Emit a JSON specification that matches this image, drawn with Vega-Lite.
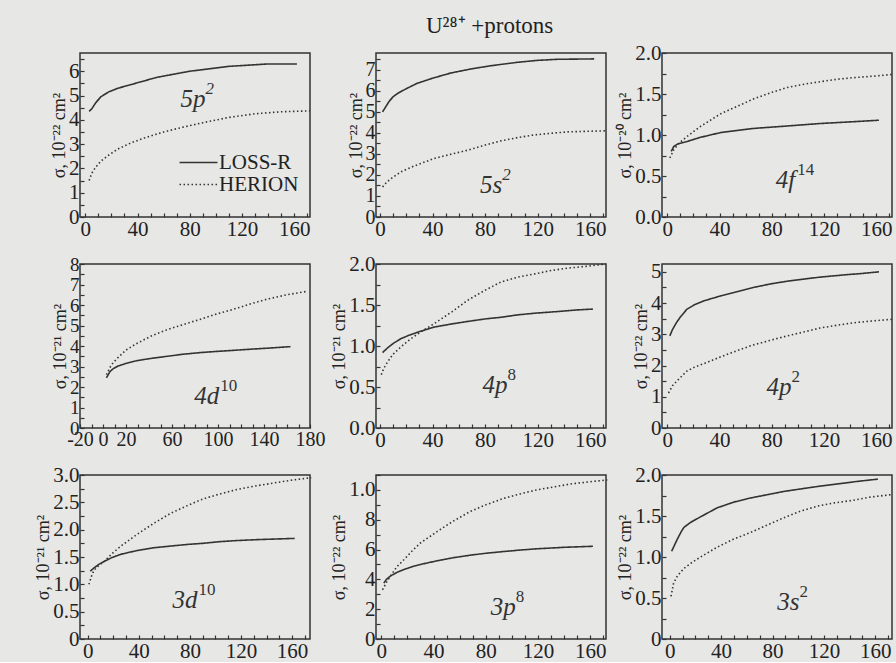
{
"$schema": "https://vega.github.io/schema/vega-lite/v6.json",
"background": "#e7e7e5",
"padding": {"left": 34, "top": 15, "right": 0, "bottom": 0},
"title": {"text": "U²⁸⁺ +protons", "font": "Liberation Serif", "fontSize": 23, "fontWeight": "normal", "color": "#222", "anchor": "middle", "dx": 24, "offset": 3},
"datasets": {"curves": [
{"panel":"5p2","model":"LOSS-R","x":3,"y":4.35},{"panel":"5p2","model":"LOSS-R","x":5,"y":4.45},{"panel":"5p2","model":"LOSS-R","x":8,"y":4.7},{"panel":"5p2","model":"LOSS-R","x":12,"y":4.95},{"panel":"5p2","model":"LOSS-R","x":18,"y":5.15},{"panel":"5p2","model":"LOSS-R","x":25,"y":5.3},{"panel":"5p2","model":"LOSS-R","x":35,"y":5.45},{"panel":"5p2","model":"LOSS-R","x":45,"y":5.6},{"panel":"5p2","model":"LOSS-R","x":55,"y":5.75},{"panel":"5p2","model":"LOSS-R","x":65,"y":5.85},{"panel":"5p2","model":"LOSS-R","x":80,"y":6.0},{"panel":"5p2","model":"LOSS-R","x":95,"y":6.1},{"panel":"5p2","model":"LOSS-R","x":110,"y":6.2},{"panel":"5p2","model":"LOSS-R","x":125,"y":6.25},{"panel":"5p2","model":"LOSS-R","x":140,"y":6.3},{"panel":"5p2","model":"LOSS-R","x":162,"y":6.3},
{"panel":"5p2","model":"HERION","x":3,"y":1.5},{"panel":"5p2","model":"HERION","x":5,"y":1.8},{"panel":"5p2","model":"HERION","x":8,"y":2.05},{"panel":"5p2","model":"HERION","x":12,"y":2.3},{"panel":"5p2","model":"HERION","x":18,"y":2.55},{"panel":"5p2","model":"HERION","x":25,"y":2.8},{"panel":"5p2","model":"HERION","x":35,"y":3.05},{"panel":"5p2","model":"HERION","x":45,"y":3.25},{"panel":"5p2","model":"HERION","x":60,"y":3.5},{"panel":"5p2","model":"HERION","x":75,"y":3.7},{"panel":"5p2","model":"HERION","x":90,"y":3.88},{"panel":"5p2","model":"HERION","x":110,"y":4.1},{"panel":"5p2","model":"HERION","x":130,"y":4.25},{"panel":"5p2","model":"HERION","x":150,"y":4.33},{"panel":"5p2","model":"HERION","x":172,"y":4.37},
{"panel":"5s2","model":"LOSS-R","x":2,"y":5.0},{"panel":"5s2","model":"LOSS-R","x":4,"y":5.2},{"panel":"5s2","model":"LOSS-R","x":7,"y":5.5},{"panel":"5s2","model":"LOSS-R","x":10,"y":5.72},{"panel":"5s2","model":"LOSS-R","x":14,"y":5.9},{"panel":"5s2","model":"LOSS-R","x":20,"y":6.1},{"panel":"5s2","model":"LOSS-R","x":28,"y":6.35},{"panel":"5s2","model":"LOSS-R","x":40,"y":6.6},{"panel":"5s2","model":"LOSS-R","x":54,"y":6.85},{"panel":"5s2","model":"LOSS-R","x":70,"y":7.05},{"panel":"5s2","model":"LOSS-R","x":85,"y":7.2},{"panel":"5s2","model":"LOSS-R","x":105,"y":7.36},{"panel":"5s2","model":"LOSS-R","x":120,"y":7.45},{"panel":"5s2","model":"LOSS-R","x":135,"y":7.5},{"panel":"5s2","model":"LOSS-R","x":163,"y":7.52},
{"panel":"5s2","model":"HERION","x":2,"y":1.43},{"panel":"5s2","model":"HERION","x":5,"y":1.65},{"panel":"5s2","model":"HERION","x":9,"y":1.85},{"panel":"5s2","model":"HERION","x":16,"y":2.15},{"panel":"5s2","model":"HERION","x":25,"y":2.4},{"panel":"5s2","model":"HERION","x":41,"y":2.78},{"panel":"5s2","model":"HERION","x":55,"y":3.0},{"panel":"5s2","model":"HERION","x":67,"y":3.18},{"panel":"5s2","model":"HERION","x":80,"y":3.42},{"panel":"5s2","model":"HERION","x":92,"y":3.62},{"panel":"5s2","model":"HERION","x":105,"y":3.78},{"panel":"5s2","model":"HERION","x":117,"y":3.9},{"panel":"5s2","model":"HERION","x":130,"y":3.98},{"panel":"5s2","model":"HERION","x":143,"y":4.05},{"panel":"5s2","model":"HERION","x":160,"y":4.08},{"panel":"5s2","model":"HERION","x":172,"y":4.1},
{"panel":"4f14","model":"LOSS-R","x":3,"y":0.8},{"panel":"4f14","model":"LOSS-R","x":5,"y":0.86},{"panel":"4f14","model":"LOSS-R","x":8,"y":0.89},{"panel":"4f14","model":"LOSS-R","x":15,"y":0.92},{"panel":"4f14","model":"LOSS-R","x":25,"y":0.97},{"panel":"4f14","model":"LOSS-R","x":41,"y":1.03},{"panel":"4f14","model":"LOSS-R","x":66,"y":1.08},{"panel":"4f14","model":"LOSS-R","x":92,"y":1.11},{"panel":"4f14","model":"LOSS-R","x":117,"y":1.14},{"panel":"4f14","model":"LOSS-R","x":140,"y":1.16},{"panel":"4f14","model":"LOSS-R","x":162,"y":1.18},
{"panel":"4f14","model":"HERION","x":2,"y":0.72},{"panel":"4f14","model":"HERION","x":5,"y":0.82},{"panel":"4f14","model":"HERION","x":9,"y":0.9},{"panel":"4f14","model":"HERION","x":15,"y":0.98},{"panel":"4f14","model":"HERION","x":25,"y":1.1},{"panel":"4f14","model":"HERION","x":41,"y":1.26},{"panel":"4f14","model":"HERION","x":55,"y":1.36},{"panel":"4f14","model":"HERION","x":66,"y":1.44},{"panel":"4f14","model":"HERION","x":80,"y":1.52},{"panel":"4f14","model":"HERION","x":92,"y":1.58},{"panel":"4f14","model":"HERION","x":105,"y":1.62},{"panel":"4f14","model":"HERION","x":117,"y":1.65},{"panel":"4f14","model":"HERION","x":130,"y":1.68},{"panel":"4f14","model":"HERION","x":143,"y":1.7},{"panel":"4f14","model":"HERION","x":160,"y":1.72},{"panel":"4f14","model":"HERION","x":173,"y":1.74},
{"panel":"4d10","model":"LOSS-R","x":3,"y":2.45},{"panel":"4d10","model":"LOSS-R","x":6,"y":2.75},{"panel":"4d10","model":"LOSS-R","x":9,"y":2.9},{"panel":"4d10","model":"LOSS-R","x":13,"y":3.02},{"panel":"4d10","model":"LOSS-R","x":20,"y":3.15},{"panel":"4d10","model":"LOSS-R","x":28,"y":3.27},{"panel":"4d10","model":"LOSS-R","x":40,"y":3.38},{"panel":"4d10","model":"LOSS-R","x":56,"y":3.5},{"panel":"4d10","model":"LOSS-R","x":70,"y":3.6},{"panel":"4d10","model":"LOSS-R","x":85,"y":3.68},{"panel":"4d10","model":"LOSS-R","x":100,"y":3.74},{"panel":"4d10","model":"LOSS-R","x":114,"y":3.79},{"panel":"4d10","model":"LOSS-R","x":130,"y":3.85},{"panel":"4d10","model":"LOSS-R","x":145,"y":3.9},{"panel":"4d10","model":"LOSS-R","x":163,"y":3.97},
{"panel":"4d10","model":"HERION","x":3,"y":2.6},{"panel":"4d10","model":"HERION","x":6,"y":2.95},{"panel":"4d10","model":"HERION","x":9,"y":3.2},{"panel":"4d10","model":"HERION","x":13,"y":3.43},{"panel":"4d10","model":"HERION","x":20,"y":3.8},{"panel":"4d10","model":"HERION","x":28,"y":4.08},{"panel":"4d10","model":"HERION","x":42,"y":4.49},{"panel":"4d10","model":"HERION","x":56,"y":4.8},{"panel":"4d10","model":"HERION","x":70,"y":5.05},{"panel":"4d10","model":"HERION","x":85,"y":5.31},{"panel":"4d10","model":"HERION","x":100,"y":5.58},{"panel":"4d10","model":"HERION","x":114,"y":5.8},{"panel":"4d10","model":"HERION","x":128,"y":6.05},{"panel":"4d10","model":"HERION","x":143,"y":6.29},{"panel":"4d10","model":"HERION","x":160,"y":6.5},{"panel":"4d10","model":"HERION","x":178,"y":6.67},
{"panel":"4p8","model":"LOSS-R","x":2,"y":0.92},{"panel":"4p8","model":"LOSS-R","x":6,"y":0.98},{"panel":"4p8","model":"LOSS-R","x":10,"y":1.03},{"panel":"4p8","model":"LOSS-R","x":16,"y":1.09},{"panel":"4p8","model":"LOSS-R","x":22,"y":1.13},{"panel":"4p8","model":"LOSS-R","x":29,"y":1.17},{"panel":"4p8","model":"LOSS-R","x":41,"y":1.23},{"panel":"4p8","model":"LOSS-R","x":55,"y":1.27},{"panel":"4p8","model":"LOSS-R","x":67,"y":1.3},{"panel":"4p8","model":"LOSS-R","x":80,"y":1.33},{"panel":"4p8","model":"LOSS-R","x":92,"y":1.35},{"panel":"4p8","model":"LOSS-R","x":105,"y":1.38},{"panel":"4p8","model":"LOSS-R","x":118,"y":1.4},{"panel":"4p8","model":"LOSS-R","x":135,"y":1.42},{"panel":"4p8","model":"LOSS-R","x":150,"y":1.44},{"panel":"4p8","model":"LOSS-R","x":162,"y":1.45},
{"panel":"4p8","model":"HERION","x":1,"y":0.65},{"panel":"4p8","model":"HERION","x":3,"y":0.73},{"panel":"4p8","model":"HERION","x":6,"y":0.81},{"panel":"4p8","model":"HERION","x":10,"y":0.9},{"panel":"4p8","model":"HERION","x":16,"y":0.99},{"panel":"4p8","model":"HERION","x":22,"y":1.07},{"panel":"4p8","model":"HERION","x":29,"y":1.15},{"panel":"4p8","model":"HERION","x":41,"y":1.27},{"panel":"4p8","model":"HERION","x":55,"y":1.42},{"panel":"4p8","model":"HERION","x":67,"y":1.56},{"panel":"4p8","model":"HERION","x":80,"y":1.68},{"panel":"4p8","model":"HERION","x":92,"y":1.78},{"panel":"4p8","model":"HERION","x":105,"y":1.84},{"panel":"4p8","model":"HERION","x":118,"y":1.88},{"panel":"4p8","model":"HERION","x":130,"y":1.92},{"panel":"4p8","model":"HERION","x":143,"y":1.95},{"panel":"4p8","model":"HERION","x":156,"y":1.97},{"panel":"4p8","model":"HERION","x":172,"y":2.0},
{"panel":"4p2","model":"LOSS-R","x":2,"y":2.95},{"panel":"4p2","model":"LOSS-R","x":4,"y":3.15},{"panel":"4p2","model":"LOSS-R","x":7,"y":3.37},{"panel":"4p2","model":"LOSS-R","x":10,"y":3.55},{"panel":"4p2","model":"LOSS-R","x":15,"y":3.8},{"panel":"4p2","model":"LOSS-R","x":21,"y":3.95},{"panel":"4p2","model":"LOSS-R","x":28,"y":4.07},{"panel":"4p2","model":"LOSS-R","x":41,"y":4.23},{"panel":"4p2","model":"LOSS-R","x":55,"y":4.38},{"panel":"4p2","model":"LOSS-R","x":66,"y":4.5},{"panel":"4p2","model":"LOSS-R","x":80,"y":4.62},{"panel":"4p2","model":"LOSS-R","x":92,"y":4.7},{"panel":"4p2","model":"LOSS-R","x":105,"y":4.77},{"panel":"4p2","model":"LOSS-R","x":117,"y":4.83},{"panel":"4p2","model":"LOSS-R","x":135,"y":4.9},{"panel":"4p2","model":"LOSS-R","x":150,"y":4.95},{"panel":"4p2","model":"LOSS-R","x":162,"y":5.0},
{"panel":"4p2","model":"HERION","x":1,"y":1.12},{"panel":"4p2","model":"HERION","x":4,"y":1.35},{"panel":"4p2","model":"HERION","x":8,"y":1.53},{"panel":"4p2","model":"HERION","x":15,"y":1.82},{"panel":"4p2","model":"HERION","x":21,"y":1.95},{"panel":"4p2","model":"HERION","x":28,"y":2.06},{"panel":"4p2","model":"HERION","x":41,"y":2.28},{"panel":"4p2","model":"HERION","x":55,"y":2.5},{"panel":"4p2","model":"HERION","x":66,"y":2.66},{"panel":"4p2","model":"HERION","x":80,"y":2.82},{"panel":"4p2","model":"HERION","x":92,"y":2.95},{"panel":"4p2","model":"HERION","x":105,"y":3.08},{"panel":"4p2","model":"HERION","x":117,"y":3.2},{"panel":"4p2","model":"HERION","x":130,"y":3.29},{"panel":"4p2","model":"HERION","x":143,"y":3.37},{"panel":"4p2","model":"HERION","x":158,"y":3.43},{"panel":"4p2","model":"HERION","x":172,"y":3.48},
{"panel":"3d10","model":"LOSS-R","x":2,"y":1.24},{"panel":"3d10","model":"LOSS-R","x":5,"y":1.3},{"panel":"3d10","model":"LOSS-R","x":9,"y":1.37},{"panel":"3d10","model":"LOSS-R","x":13,"y":1.42},{"panel":"3d10","model":"LOSS-R","x":19,"y":1.49},{"panel":"3d10","model":"LOSS-R","x":26,"y":1.55},{"panel":"3d10","model":"LOSS-R","x":39,"y":1.62},{"panel":"3d10","model":"LOSS-R","x":52,"y":1.67},{"panel":"3d10","model":"LOSS-R","x":65,"y":1.7},{"panel":"3d10","model":"LOSS-R","x":78,"y":1.73},{"panel":"3d10","model":"LOSS-R","x":90,"y":1.75},{"panel":"3d10","model":"LOSS-R","x":103,"y":1.78},{"panel":"3d10","model":"LOSS-R","x":116,"y":1.8},{"panel":"3d10","model":"LOSS-R","x":135,"y":1.82},{"panel":"3d10","model":"LOSS-R","x":162,"y":1.84},
{"panel":"3d10","model":"HERION","x":1,"y":1.0},{"panel":"3d10","model":"HERION","x":3,"y":1.15},{"panel":"3d10","model":"HERION","x":5,"y":1.26},{"panel":"3d10","model":"HERION","x":9,"y":1.35},{"panel":"3d10","model":"HERION","x":13,"y":1.42},{"panel":"3d10","model":"HERION","x":19,"y":1.56},{"panel":"3d10","model":"HERION","x":26,"y":1.7},{"panel":"3d10","model":"HERION","x":39,"y":1.92},{"panel":"3d10","model":"HERION","x":52,"y":2.12},{"panel":"3d10","model":"HERION","x":65,"y":2.3},{"panel":"3d10","model":"HERION","x":78,"y":2.44},{"panel":"3d10","model":"HERION","x":90,"y":2.56},{"panel":"3d10","model":"HERION","x":103,"y":2.65},{"panel":"3d10","model":"HERION","x":116,"y":2.73},{"panel":"3d10","model":"HERION","x":129,"y":2.79},{"panel":"3d10","model":"HERION","x":142,"y":2.84},{"panel":"3d10","model":"HERION","x":158,"y":2.9},{"panel":"3d10","model":"HERION","x":175,"y":2.95},
{"panel":"3p8","model":"LOSS-R","x":2,"y":3.75},{"panel":"3p8","model":"LOSS-R","x":4,"y":4.0},{"panel":"3p8","model":"LOSS-R","x":7,"y":4.22},{"panel":"3p8","model":"LOSS-R","x":12,"y":4.47},{"panel":"3p8","model":"LOSS-R","x":17,"y":4.65},{"panel":"3p8","model":"LOSS-R","x":23,"y":4.83},{"panel":"3p8","model":"LOSS-R","x":30,"y":5.0},{"panel":"3p8","model":"LOSS-R","x":43,"y":5.25},{"panel":"3p8","model":"LOSS-R","x":55,"y":5.45},{"panel":"3p8","model":"LOSS-R","x":68,"y":5.62},{"panel":"3p8","model":"LOSS-R","x":80,"y":5.75},{"panel":"3p8","model":"LOSS-R","x":94,"y":5.87},{"panel":"3p8","model":"LOSS-R","x":107,"y":5.97},{"panel":"3p8","model":"LOSS-R","x":119,"y":6.05},{"panel":"3p8","model":"LOSS-R","x":140,"y":6.15},{"panel":"3p8","model":"LOSS-R","x":162,"y":6.22},
{"panel":"3p8","model":"HERION","x":1,"y":3.3},{"panel":"3p8","model":"HERION","x":4,"y":3.8},{"panel":"3p8","model":"HERION","x":7,"y":4.22},{"panel":"3p8","model":"HERION","x":12,"y":4.85},{"panel":"3p8","model":"HERION","x":17.5,"y":5.33},{"panel":"3p8","model":"HERION","x":23,"y":5.85},{"panel":"3p8","model":"HERION","x":30,"y":6.44},{"panel":"3p8","model":"HERION","x":43,"y":7.22},{"panel":"3p8","model":"HERION","x":55,"y":7.9},{"panel":"3p8","model":"HERION","x":68,"y":8.55},{"panel":"3p8","model":"HERION","x":80,"y":9.0},{"panel":"3p8","model":"HERION","x":94,"y":9.44},{"panel":"3p8","model":"HERION","x":107,"y":9.75},{"panel":"3p8","model":"HERION","x":119,"y":10.0},{"panel":"3p8","model":"HERION","x":132,"y":10.2},{"panel":"3p8","model":"HERION","x":145,"y":10.4},{"panel":"3p8","model":"HERION","x":160,"y":10.55},{"panel":"3p8","model":"HERION","x":173,"y":10.67},
{"panel":"3s2","model":"LOSS-R","x":1.5,"y":1.07},{"panel":"3s2","model":"LOSS-R","x":3,"y":1.12},{"panel":"3s2","model":"LOSS-R","x":6,"y":1.22},{"panel":"3s2","model":"LOSS-R","x":9,"y":1.31},{"panel":"3s2","model":"LOSS-R","x":11,"y":1.36},{"panel":"3s2","model":"LOSS-R","x":16,"y":1.42},{"panel":"3s2","model":"LOSS-R","x":24,"y":1.49},{"panel":"3s2","model":"LOSS-R","x":37,"y":1.6},{"panel":"3s2","model":"LOSS-R","x":50,"y":1.67},{"panel":"3s2","model":"LOSS-R","x":63,"y":1.72},{"panel":"3s2","model":"LOSS-R","x":76,"y":1.76},{"panel":"3s2","model":"LOSS-R","x":89,"y":1.8},{"panel":"3s2","model":"LOSS-R","x":102,"y":1.83},{"panel":"3s2","model":"LOSS-R","x":115,"y":1.86},{"panel":"3s2","model":"LOSS-R","x":130,"y":1.89},{"panel":"3s2","model":"LOSS-R","x":145,"y":1.92},{"panel":"3s2","model":"LOSS-R","x":162,"y":1.95},
{"panel":"3s2","model":"HERION","x":1,"y":0.52},{"panel":"3s2","model":"HERION","x":3,"y":0.68},{"panel":"3s2","model":"HERION","x":6,"y":0.77},{"panel":"3s2","model":"HERION","x":11,"y":0.86},{"panel":"3s2","model":"HERION","x":17,"y":0.93},{"panel":"3s2","model":"HERION","x":24,"y":1.0},{"panel":"3s2","model":"HERION","x":37,"y":1.12},{"panel":"3s2","model":"HERION","x":50,"y":1.22},{"panel":"3s2","model":"HERION","x":63,"y":1.3},{"panel":"3s2","model":"HERION","x":76,"y":1.39},{"panel":"3s2","model":"HERION","x":89,"y":1.48},{"panel":"3s2","model":"HERION","x":102,"y":1.56},{"panel":"3s2","model":"HERION","x":115,"y":1.62},{"panel":"3s2","model":"HERION","x":128,"y":1.66},{"panel":"3s2","model":"HERION","x":142,"y":1.69},{"panel":"3s2","model":"HERION","x":156,"y":1.73},{"panel":"3s2","model":"HERION","x":172,"y":1.76}
]},
"columns": 3,
"spacing": {"row": 12, "column": 4},
"resolve": {"scale": {"x": "independent", "y": "independent"}, "legend": {"strokeDash": "independent"}},
"concat": [
{"width": 230, "height": 164, "data": {"name": "curves"}, "transform": [{"filter": "datum.panel == '5p2'"}],
 "layer": [
  {"mark": {"type": "line", "color": "#333", "strokeWidth": 1.6},
   "encoding": {
    "x": {"field": "x", "type": "quantitative", "scale": {"domain": [-4, 172], "nice": false, "zero": false}, "axis": {"values": [0,10,20,30,40,50,60,70,80,90,100,110,120,130,140,150,160,170], "tickCount": 500, "labelExpr": "datum.value % 40 == 0 ? format(datum.value, 'd') : ''", "labelOverlap": false, "title": null}},
    "y": {"field": "y", "type": "quantitative", "scale": {"domain": [0, 6.75], "nice": false}, "axis": {"values": [0,0.5,1,1.5,2,2.5,3,3.5,4,4.5,5,5.5,6,6.5], "tickCount": 500, "labelExpr": "datum.value % 1 == 0 ? format(datum.value, 'd') : ''", "labelOverlap": false, "title": "σ, 10⁻²² cm²"}},
    "strokeDash": {"field": "model", "type": "nominal", "scale": {"domain": ["LOSS-R", "HERION"], "range": [[1, 0], [1.5, 2.5]]}, "legend": {"title": null, "orient": "none", "legendX": 108, "legendY": 99, "symbolType": "M-4,0H4", "symbolSize": 90, "symbolStrokeWidth": 1.6, "symbolStrokeColor": "#333", "labelFont": "Liberation Serif", "labelFontSize": 21, "labelColor": "#222", "labelOffset": 10, "rowPadding": 0, "padding": 0}}
   }},
  {"data": {"values": [{}]}, "mark": {"type": "text", "font": "Liberation Serif", "fontStyle": "italic", "fontSize": 25, "color": "#333", "align": "right"},
   "encoding": {"x": {"datum": 92}, "y": {"datum": 4.85}, "text": {"value": "5p"}}},
  {"data": {"values": [{}]}, "mark": {"type": "text", "font": "Liberation Serif", "fontStyle": "italic", "fontSize": 17, "color": "#333", "align": "left", "dy": -10},
   "encoding": {"x": {"datum": 92}, "y": {"datum": 4.85}, "text": {"value": "2"}}}
 ]},
{"width": 230, "height": 164, "data": {"name": "curves"}, "transform": [{"filter": "datum.panel == '5s2'"}],
 "layer": [
  {"mark": {"type": "line", "color": "#333", "strokeWidth": 1.6},
   "encoding": {
    "x": {"field": "x", "type": "quantitative", "scale": {"domain": [-3, 172], "nice": false, "zero": false}, "axis": {"values": [0,10,20,30,40,50,60,70,80,90,100,110,120,130,140,150,160,170], "tickCount": 500, "labelExpr": "datum.value % 40 == 0 ? format(datum.value, 'd') : ''", "labelOverlap": false, "title": null}},
    "y": {"field": "y", "type": "quantitative", "scale": {"domain": [0, 7.8], "nice": false}, "axis": {"values": [0,0.5,1,1.5,2,2.5,3,3.5,4,4.5,5,5.5,6,6.5,7,7.5], "tickCount": 500, "labelExpr": "datum.value % 1 == 0 ? format(datum.value, 'd') : ''", "labelOverlap": false, "labelFontSize": 20, "title": "σ, 10⁻²² cm²"}},
    "strokeDash": {"field": "model", "type": "nominal", "scale": {"domain": ["LOSS-R", "HERION"], "range": [[1, 0], [1.5, 2.5]]}, "legend": null}
   }},
  {"data": {"values": [{}]}, "mark": {"type": "text", "font": "Liberation Serif", "fontStyle": "italic", "fontSize": 25, "color": "#333", "align": "right"},
   "encoding": {"x": {"datum": 93}, "y": {"datum": 1.5}, "text": {"value": "5s"}}},
  {"data": {"values": [{}]}, "mark": {"type": "text", "font": "Liberation Serif", "fontStyle": "italic", "fontSize": 17, "color": "#333", "align": "left", "dy": -10},
   "encoding": {"x": {"datum": 93}, "y": {"datum": 1.5}, "text": {"value": "2"}}}
 ]},
{"width": 230, "height": 164, "data": {"name": "curves"}, "transform": [{"filter": "datum.panel == '4f14'"}],
 "layer": [
  {"mark": {"type": "line", "color": "#333", "strokeWidth": 1.6},
   "encoding": {
    "x": {"field": "x", "type": "quantitative", "scale": {"domain": [-4, 172], "nice": false, "zero": false}, "axis": {"values": [0,10,20,30,40,50,60,70,80,90,100,110,120,130,140,150,160,170], "tickCount": 500, "labelExpr": "datum.value % 40 == 0 ? format(datum.value, 'd') : ''", "labelOverlap": false, "title": null}},
    "y": {"field": "y", "type": "quantitative", "scale": {"domain": [0, 2], "nice": false}, "axis": {"values": [0,0.25,0.5,0.75,1,1.25,1.5,1.75,2], "tickCount": 500, "labelExpr": "(datum.value*2) % 1 == 0 ? format(datum.value, '.1f') : ''", "labelOverlap": false, "title": "σ, 10⁻²⁰ cm²"}},
    "strokeDash": {"field": "model", "type": "nominal", "scale": {"domain": ["LOSS-R", "HERION"], "range": [[1, 0], [1.5, 2.5]]}, "legend": null}
   }},
  {"data": {"values": [{}]}, "mark": {"type": "text", "font": "Liberation Serif", "fontStyle": "italic", "fontSize": 25, "color": "#333", "align": "right"},
   "encoding": {"x": {"datum": 98}, "y": {"datum": 0.45}, "text": {"value": "4f"}}},
  {"data": {"values": [{}]}, "mark": {"type": "text", "font": "Liberation Serif", "fontSize": 17, "color": "#333", "align": "left", "dy": -10, "dx": 2},
   "encoding": {"x": {"datum": 98}, "y": {"datum": 0.45}, "text": {"value": "14"}}}
 ]},
{"width": 230, "height": 164, "data": {"name": "curves"}, "transform": [{"filter": "datum.panel == '4d10'"}],
 "layer": [
  {"mark": {"type": "line", "color": "#333", "strokeWidth": 1.6},
   "encoding": {
    "x": {"field": "x", "type": "quantitative", "scale": {"domain": [-20, 180], "nice": false, "zero": false}, "axis": {"values": [-20,-10,0,10,20,30,40,50,60,70,80,90,100,110,120,130,140,150,160,170,180], "tickCount": 500, "labelExpr": "indexof([-20, 0, 20, 60, 100, 140, 180], datum.value) >= 0 ? (datum.value < 0 ? '-' : '') + format(abs(datum.value), 'd') : ''", "labelOverlap": false, "labelFontSize": 20, "title": null}},
    "y": {"field": "y", "type": "quantitative", "scale": {"domain": [0, 8], "nice": false}, "axis": {"values": [0,0.5,1,1.5,2,2.5,3,3.5,4,4.5,5,5.5,6,6.5,7,7.5,8], "tickCount": 500, "labelExpr": "datum.value % 1 == 0 ? format(datum.value, 'd') : ''", "labelOverlap": false, "labelFontSize": 19, "title": "σ, 10⁻²¹ cm²"}},
    "strokeDash": {"field": "model", "type": "nominal", "scale": {"domain": ["LOSS-R", "HERION"], "range": [[1, 0], [1.5, 2.5]]}, "legend": null}
   }},
  {"data": {"values": [{}]}, "mark": {"type": "text", "font": "Liberation Serif", "fontStyle": "italic", "fontSize": 25, "color": "#333", "align": "right"},
   "encoding": {"x": {"datum": 101}, "y": {"datum": 1.55}, "text": {"value": "4d"}}},
  {"data": {"values": [{}]}, "mark": {"type": "text", "font": "Liberation Serif", "fontSize": 17, "color": "#333", "align": "left", "dy": -10, "dx": 1},
   "encoding": {"x": {"datum": 101}, "y": {"datum": 1.55}, "text": {"value": "10"}}}
 ]},
{"width": 230, "height": 164, "data": {"name": "curves"}, "transform": [{"filter": "datum.panel == '4p8'"}],
 "layer": [
  {"mark": {"type": "line", "color": "#333", "strokeWidth": 1.6},
   "encoding": {
    "x": {"field": "x", "type": "quantitative", "scale": {"domain": [-3, 172], "nice": false, "zero": false}, "axis": {"values": [0,10,20,30,40,50,60,70,80,90,100,110,120,130,140,150,160,170], "tickCount": 500, "labelExpr": "datum.value % 40 == 0 ? format(datum.value, 'd') : ''", "labelOverlap": false, "title": null}},
    "y": {"field": "y", "type": "quantitative", "scale": {"domain": [0, 2], "nice": false}, "axis": {"values": [0,0.25,0.5,0.75,1,1.25,1.5,1.75,2], "tickCount": 500, "labelExpr": "(datum.value*2) % 1 == 0 ? format(datum.value, '.1f') : ''", "labelOverlap": false, "title": "σ, 10⁻²¹ cm²"}},
    "strokeDash": {"field": "model", "type": "nominal", "scale": {"domain": ["LOSS-R", "HERION"], "range": [[1, 0], [1.5, 2.5]]}, "legend": null}
   }},
  {"data": {"values": [{}]}, "mark": {"type": "text", "font": "Liberation Serif", "fontStyle": "italic", "fontSize": 25, "color": "#333", "align": "right"},
   "encoding": {"x": {"datum": 97}, "y": {"datum": 0.53}, "text": {"value": "4p"}}},
  {"data": {"values": [{}]}, "mark": {"type": "text", "font": "Liberation Serif", "fontSize": 17, "color": "#333", "align": "left", "dy": -10},
   "encoding": {"x": {"datum": 97}, "y": {"datum": 0.53}, "text": {"value": "8"}}}
 ]},
{"width": 230, "height": 164, "data": {"name": "curves"}, "transform": [{"filter": "datum.panel == '4p2'"}],
 "layer": [
  {"mark": {"type": "line", "color": "#333", "strokeWidth": 1.6},
   "encoding": {
    "x": {"field": "x", "type": "quantitative", "scale": {"domain": [-4, 172], "nice": false, "zero": false}, "axis": {"values": [0,10,20,30,40,50,60,70,80,90,100,110,120,130,140,150,160,170], "tickCount": 500, "labelExpr": "datum.value % 40 == 0 ? format(datum.value, 'd') : ''", "labelOverlap": false, "title": null}},
    "y": {"field": "y", "type": "quantitative", "scale": {"domain": [0, 5.25], "nice": false}, "axis": {"values": [0,0.5,1,1.5,2,2.5,3,3.5,4,4.5,5], "tickCount": 500, "labelExpr": "datum.value % 1 == 0 ? format(datum.value, 'd') : ''", "labelOverlap": false, "title": "σ, 10⁻²² cm²"}},
    "strokeDash": {"field": "model", "type": "nominal", "scale": {"domain": ["LOSS-R", "HERION"], "range": [[1, 0], [1.5, 2.5]]}, "legend": null}
   }},
  {"data": {"values": [{}]}, "mark": {"type": "text", "font": "Liberation Serif", "fontStyle": "italic", "fontSize": 25, "color": "#333", "align": "right"},
   "encoding": {"x": {"datum": 95}, "y": {"datum": 1.3}, "text": {"value": "4p"}}},
  {"data": {"values": [{}]}, "mark": {"type": "text", "font": "Liberation Serif", "fontSize": 17, "color": "#333", "align": "left", "dy": -10},
   "encoding": {"x": {"datum": 95}, "y": {"datum": 1.3}, "text": {"value": "2"}}}
 ]},
{"width": 230, "height": 164, "data": {"name": "curves"}, "transform": [{"filter": "datum.panel == '3d10'"}],
 "layer": [
  {"mark": {"type": "line", "color": "#333", "strokeWidth": 1.6},
   "encoding": {
    "x": {"field": "x", "type": "quantitative", "scale": {"domain": [-6, 174], "nice": false, "zero": false}, "axis": {"values": [0,10,20,30,40,50,60,70,80,90,100,110,120,130,140,150,160,170], "tickCount": 500, "labelExpr": "datum.value % 40 == 0 ? format(datum.value, 'd') : ''", "labelOverlap": false, "title": null}},
    "y": {"field": "y", "type": "quantitative", "scale": {"domain": [0, 3], "nice": false}, "axis": {"values": [0,0.25,0.5,0.75,1,1.25,1.5,1.75,2,2.25,2.5,2.75,3], "tickCount": 500, "labelExpr": "(datum.value*2) % 1 == 0 ? (datum.value == 0 ? '0' : format(datum.value, '.1f')) : ''", "labelOverlap": false, "title": "σ, 10⁻²¹ cm²"}},
    "strokeDash": {"field": "model", "type": "nominal", "scale": {"domain": ["LOSS-R", "HERION"], "range": [[1, 0], [1.5, 2.5]]}, "legend": null}
   }},
  {"data": {"values": [{}]}, "mark": {"type": "text", "font": "Liberation Serif", "fontStyle": "italic", "fontSize": 25, "color": "#333", "align": "right"},
   "encoding": {"x": {"datum": 86}, "y": {"datum": 0.72}, "text": {"value": "3d"}}},
  {"data": {"values": [{}]}, "mark": {"type": "text", "font": "Liberation Serif", "fontSize": 17, "color": "#333", "align": "left", "dy": -10, "dx": 1},
   "encoding": {"x": {"datum": 86}, "y": {"datum": 0.72}, "text": {"value": "10"}}}
 ]},
{"width": 230, "height": 164, "data": {"name": "curves"}, "transform": [{"filter": "datum.panel == '3p8'"}],
 "layer": [
  {"mark": {"type": "line", "color": "#333", "strokeWidth": 1.6},
   "encoding": {
    "x": {"field": "x", "type": "quantitative", "scale": {"domain": [-4, 172], "nice": false, "zero": false}, "axis": {"values": [0,10,20,30,40,50,60,70,80,90,100,110,120,130,140,150,160,170], "tickCount": 500, "labelExpr": "datum.value % 40 == 0 ? format(datum.value, 'd') : ''", "labelOverlap": false, "title": null}},
    "y": {"field": "y", "type": "quantitative", "scale": {"domain": [0, 11], "nice": false}, "axis": {"values": [0,1,2,3,4,5,6,7,8,9,10,11], "tickCount": 500, "labelExpr": "datum.value % 2 == 0 ? (datum.value == 10 ? '1.0' : format(datum.value, 'd')) : ''", "labelOverlap": false, "title": "σ, 10⁻²² cm²"}},
    "strokeDash": {"field": "model", "type": "nominal", "scale": {"domain": ["LOSS-R", "HERION"], "range": [[1, 0], [1.5, 2.5]]}, "legend": null}
   }},
  {"data": {"values": [{}]}, "mark": {"type": "text", "font": "Liberation Serif", "fontStyle": "italic", "fontSize": 25, "color": "#333", "align": "right"},
   "encoding": {"x": {"datum": 103}, "y": {"datum": 2.15}, "text": {"value": "3p"}}},
  {"data": {"values": [{}]}, "mark": {"type": "text", "font": "Liberation Serif", "fontSize": 17, "color": "#333", "align": "left", "dy": -10},
   "encoding": {"x": {"datum": 103}, "y": {"datum": 2.15}, "text": {"value": "8"}}}
 ]},
{"width": 230, "height": 164, "data": {"name": "curves"}, "transform": [{"filter": "datum.panel == '3s2'"}],
 "layer": [
  {"mark": {"type": "line", "color": "#333", "strokeWidth": 1.6},
   "encoding": {
    "x": {"field": "x", "type": "quantitative", "scale": {"domain": [-6, 173], "nice": false, "zero": false}, "axis": {"values": [0,10,20,30,40,50,60,70,80,90,100,110,120,130,140,150,160,170], "tickCount": 500, "labelExpr": "datum.value % 40 == 0 ? format(datum.value, 'd') : ''", "labelOverlap": false, "title": null}},
    "y": {"field": "y", "type": "quantitative", "scale": {"domain": [0, 2], "nice": false}, "axis": {"values": [0,0.25,0.5,0.75,1,1.25,1.5,1.75,2], "tickCount": 500, "labelExpr": "(datum.value*2) % 1 == 0 ? (datum.value == 0 ? '0' : format(datum.value, '.1f')) : ''", "labelOverlap": false, "title": "σ, 10⁻²² cm²"}},
    "strokeDash": {"field": "model", "type": "nominal", "scale": {"domain": ["LOSS-R", "HERION"], "range": [[1, 0], [1.5, 2.5]]}, "legend": null}
   }},
  {"data": {"values": [{}]}, "mark": {"type": "text", "font": "Liberation Serif", "fontStyle": "italic", "fontSize": 25, "color": "#333", "align": "right"},
   "encoding": {"x": {"datum": 101}, "y": {"datum": 0.45}, "text": {"value": "3s"}}},
  {"data": {"values": [{}]}, "mark": {"type": "text", "font": "Liberation Serif", "fontSize": 17, "color": "#333", "align": "left", "dy": -10},
   "encoding": {"x": {"datum": 101}, "y": {"datum": 0.45}, "text": {"value": "2"}}}
 ]}
],
"config": {
 "view": {"stroke": "#333", "strokeWidth": 1.5},
 "axis": {"grid": false, "domain": false, "offset": -4, "labelFont": "Liberation Serif", "labelFontSize": 21, "labelColor": "#222", "labelOverlap": false, "labelFlush": false, "labelBound": false, "titleFont": "Liberation Serif", "titleFontSize": 18, "titleFontWeight": "normal", "titleColor": "#222", "tickColor": "#333", "tickWidth": 1.2, "tickSize": 4, "labelPadding": 1, "titlePadding": 0}
}
}
